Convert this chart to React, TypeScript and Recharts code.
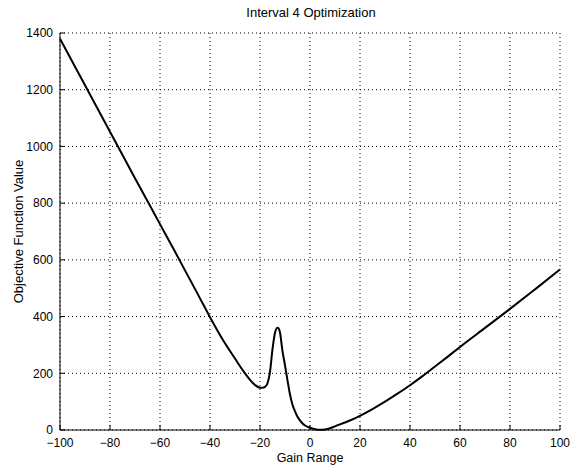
import { LineChart, Line, XAxis, YAxis, CartesianGrid } from 'recharts';

const gain = [
  -100, -90, -80, -70, -60, -55, -50, -45, -40, -35, -30, -28, -26, -24, -22, -20, -19, -18, -17, -16, -15, -14, -13,
  -12.5, -12, -11, -10, -9, -8, -7, -6, -5, -4, -3, -2, 0, 2, 4, 6, 8, 10, 15, 20, 25, 30, 35, 40, 45, 50, 55, 60, 70,
  80, 90, 100,
];
const objective = [
  1380, 1216, 1052, 888, 726, 645, 563, 481, 398, 320, 252, 225, 200, 177, 159, 149, 149, 152, 165, 205, 285, 343, 361,
  358, 344, 278, 228, 175, 125, 89, 66, 47, 34, 23, 16, 8, 3, 1, 2, 6, 13, 30, 50, 74, 100, 128, 158, 190, 224, 258, 293,
  360, 427, 496, 566,
];

const xTicks = [-100, -80, -60, -40, -20, 0, 20, 40, 60, 80, 100];
const yTicks = [0, 200, 400, 600, 800, 1000, 1200, 1400];

const data = gain.map((g, i) => ({ gain: g, value: objective[i] }));

const font = '"Liberation Sans", Arial, sans-serif';
const tickStyle = { fill: '#000', fontSize: 12, fontFamily: font };
const fmt = (v: number) => (v < 0 ? '\u2212' + Math.abs(v) : String(v));

export default function App() {
  return (
    <div style={{ position: 'absolute', left: 0, top: 0, width: 570, height: 465, background: '#fff' }}>
      <div
        style={{
          position: 'absolute',
          top: 5,
          left: 61,
          width: 500,
          textAlign: 'center',
          fontFamily: font,
          fontSize: 13,
          color: '#000',
        }}
      >
        Interval 4 Optimization
      </div>
      <LineChart width={570} height={465} data={data} margin={{ top: 33, right: 10, left: 10, bottom: 0 }}>
        <CartesianGrid stroke="#000" strokeDasharray="1 3" />
        <XAxis
          dataKey="gain"
          type="number"
          domain={[-100, 100]}
          ticks={xTicks}
          tickFormatter={fmt}
          tick={tickStyle}
          tickSize={-5}
          tickMargin={13}
          stroke="#000"
          height={35}
          label={{ value: 'Gain Range', position: 'insideBottom', offset: 3, fill: '#000', fontSize: 12.5, fontFamily: font }}
        />
        <XAxis
          xAxisId="top"
          orientation="top"
          dataKey="gain"
          type="number"
          domain={[-100, 100]}
          ticks={xTicks}
          tickFormatter={() => ''}
          tickSize={-5}
          stroke="#000"
          height={0}
        />
        <YAxis
          type="number"
          domain={[0, 1400]}
          ticks={yTicks}
          tick={tickStyle}
          tickSize={-5}
          tickMargin={12}
          stroke="#000"
          width={50}
          label={{
            value: 'Objective Function Value',
            angle: -90,
            position: 'insideLeft',
            offset: 8,
            style: { textAnchor: 'middle' },
            fill: '#000',
            fontSize: 13,
            fontFamily: font,
          }}
        />
        <YAxis
          yAxisId="right"
          orientation="right"
          type="number"
          domain={[0, 1400]}
          ticks={yTicks}
          tickFormatter={() => ''}
          tickSize={-5}
          stroke="#000"
          width={0}
        />
        <Line
          type="monotone"
          dataKey="value"
          stroke="#000"
          strokeWidth={2}
          dot={false}
          isAnimationActive={false}
        />
      </LineChart>
    </div>
  );
}
